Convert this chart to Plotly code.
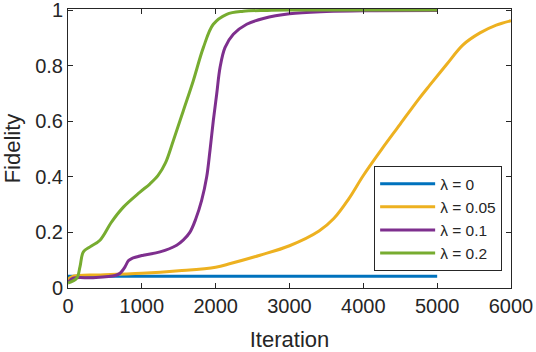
import plotly.graph_objects as go

# Data
it_l0 = [0, 5000]
f_l0 = [0.042, 0.042]

it_l005 = [0, 50, 150, 400, 1000, 1500, 2000, 2200, 2600, 3000, 3400, 3600, 3800, 4000,
           4250, 4500, 4750, 4900, 5130, 5350, 5580, 5800, 6000]
f_l005 = [0.03, 0.04, 0.045, 0.047, 0.053, 0.062, 0.075, 0.088, 0.118, 0.152, 0.205, 0.25,
          0.32, 0.405, 0.5, 0.59, 0.68, 0.73, 0.805, 0.875, 0.918, 0.946, 0.962]

it_l01 = [0, 70, 340, 640, 704, 772, 817, 862, 1020, 1246, 1472, 1560, 1650, 1730, 1810, 1878,
          1923, 1968, 2014, 2059, 2126, 2239, 2420, 2646, 3000, 3500, 4000, 5000]
f_l01 = [0.02, 0.035, 0.037, 0.045, 0.053, 0.076, 0.098, 0.106, 0.118, 0.13, 0.154, 0.172,
         0.2, 0.248, 0.315, 0.399, 0.495, 0.602, 0.698, 0.793, 0.865, 0.913, 0.949, 0.97,
         0.987, 0.995, 0.998, 0.999]

it_l02 = [0, 117, 162, 208, 298, 433, 591, 750, 975, 1111, 1220, 1320, 1426, 1562, 1697, 1833,
          1968, 2149, 2375, 2700, 3000, 5000]
f_l02 = [0.018, 0.035, 0.076, 0.13, 0.148, 0.172, 0.238, 0.291, 0.345, 0.375, 0.405, 0.45,
         0.53, 0.638, 0.746, 0.865, 0.949, 0.985, 0.996, 0.999, 1.0, 1.0]

names = ["λ = 0", "λ = 0.05", "λ = 0.1", "λ = 0.2"]
colors = ["#0072BD", "#EDB120", "#7E2F8E", "#77AC30"]
series = [(it_l0, f_l0), (it_l005, f_l005), (it_l01, f_l01), (it_l02, f_l02)]

fig = go.Figure()
for (x, y), n, c in zip(series, names, colors):
    fig.add_trace(go.Scatter(x=x, y=y, mode="lines", name=n,
                             line=dict(color=c, width=3, shape="spline", smoothing=1.0)))

axis_common = dict(
    showline=True, linecolor="#262626", linewidth=1, mirror="allticks",
    ticks="inside", ticklen=5, tickcolor="#262626", showgrid=False, zeroline=False,
    tickfont=dict(size=20, color="#262626"), ticklabeloverflow="allow",
    automargin=False,
)

fig.update_xaxes(range=[0, 6000], tickvals=[0, 1000, 2000, 3000, 4000, 5000, 6000],
                 title=dict(text="Iteration", font=dict(size=22, color="#262626"), standoff=16),
                 **axis_common)
fig.update_yaxes(range=[0, 1.004], tickvals=[0, 0.2, 0.4, 0.6, 0.8, 1],
                 ticktext=["0", "0.2", "0.4", "0.6", "0.8", "1"],
                 title=dict(text="Fidelity", font=dict(size=22, color="#262626"), standoff=9),
                 **axis_common)

fig.update_layout(
    width=536, height=352,
    margin=dict(l=68, r=25, t=9, b=64),
    paper_bgcolor="white", plot_bgcolor="white",
    font=dict(family="Liberation Sans, Arial, sans-serif", color="#262626"),
    legend=dict(x=0.98, y=0.437, xanchor="right", yanchor="top",
                bgcolor="white", bordercolor="#262626", borderwidth=1,
                font=dict(size=15.5, color="#262626"), itemwidth=55,
                tracegroupgap=0),
    showlegend=True,
)

fig.write_html("out.html", config={"displayModeBar": False},
               post_script="document.body.style.margin='0';")
